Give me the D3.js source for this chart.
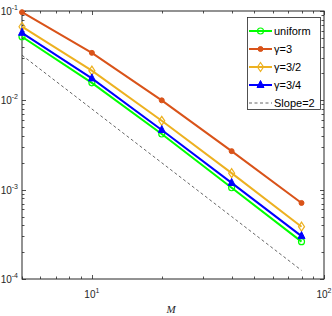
<!DOCTYPE html>
<html><head><meta charset="utf-8">
<script src="https://cdn.jsdelivr.net/npm/d3@7"></script>
<style>body{margin:0;background:#fff}svg{display:block}</style>
</head><body>
<script>
const M = [5, 10, 20, 40, 80];
const uniform = [0.0515, 0.0157, 0.0042, 0.00105, 0.000262];
const gamma3 = [0.097, 0.034, 0.0100, 0.0027, 0.00071];
const gamma32 = [0.0667, 0.0215, 0.0059, 0.00153, 0.000385];
const gamma34 = [0.057, 0.0176, 0.00465, 0.00119, 0.000302];
const slope2 = [0.032, 0.008, 0.002, 0.0005, 0.000125];
const xTickExp = [1, 2];
const yTickExp = [-4, -3, -2, -1];
const seriesNames = ["uniform", "\u03b3=3", "\u03b3=3/2", "\u03b3=3/4", "Slope=2"];

const W = 332, H = 316;
const L = 22, R = 324, T = 11, B = 279;
const svg = d3.select("body").append("svg").attr("width", W).attr("height", H);
const x = d3.scaleLog().domain([5, 100]).range([L, R]);
const y = d3.scaleLog().domain([1e-4, 1e-1]).range([B, T]);

// box
svg.append("rect").attr("x", L).attr("y", T).attr("width", R - L).attr("height", B - T)
  .attr("fill", "#fff").attr("stroke", "#262626").attr("stroke-width", 1);

// ticks
const xMinor = [];
for (let d = 0; d <= 2; d++) for (let k = 1; k <= 9; k++) { const v = k * Math.pow(10, d); if (v >= 5 && v <= 100) xMinor.push(v); }
const yMinor = [];
for (let d = -4; d <= -1; d++) for (let k = 1; k <= 9; k++) { const v = k * Math.pow(10, d); if (v >= 1e-4 && v <= 1e-1) yMinor.push(v); }
const tg = svg.append("g").attr("stroke", "#262626").attr("stroke-width", 0.8);
xMinor.forEach(v => {
  const major = Math.abs(Math.log10(v) - Math.round(Math.log10(v))) < 1e-9;
  const len = major ? 4 : 2.5;
  const px = Math.round(x(v)) + 0.5;
  tg.append("line").attr("x1", px).attr("x2", px).attr("y1", B).attr("y2", B - len);
  tg.append("line").attr("x1", px).attr("x2", px).attr("y1", T).attr("y2", T + len);
});
yMinor.forEach(v => {
  const major = Math.abs(Math.log10(v) - Math.round(Math.log10(v))) < 1e-9;
  const len = major ? 4 : 2.5;
  const py = Math.round(y(v)) + 0.5;
  tg.append("line").attr("x1", L).attr("x2", L + len).attr("y1", py).attr("y2", py);
  tg.append("line").attr("x1", R).attr("x2", R - len).attr("y1", py).attr("y2", py);
});

// tick labels
const font = "Liberation Sans, Arial, sans-serif";
xTickExp.forEach(e => {
  const t = svg.append("text").attr("x", x(Math.pow(10, e))).attr("y", 298)
    .attr("text-anchor", "middle").attr("font-family", font).attr("font-size", 10).attr("fill", "#262626");
  t.append("tspan").text("10");
  t.append("tspan").attr("dy", -5).attr("font-size", 7).text(e);
});
yTickExp.forEach(e => {
  const t = svg.append("text").attr("x", 18).attr("y", y(Math.pow(10, e)) + 4)
    .attr("text-anchor", "end").attr("font-family", font).attr("font-size", 10).attr("fill", "#262626");
  t.append("tspan").text("10");
  t.append("tspan").attr("dy", -5).attr("font-size", 7).text(e);
});
svg.append("text").attr("x", 171).attr("y", 313).attr("text-anchor", "middle")
  .attr("font-family", "Liberation Serif, Times New Roman, serif").attr("font-style", "italic")
  .attr("font-size", 11).attr("fill", "#262626").text("M");

const line = d3.line().x(d => x(d[0])).y(d => y(d[1]));
const series = [
  { vals: uniform, color: "#00ff00", marker: "circle" },
  { vals: gamma3, color: "#d95319", marker: "dot" },
  { vals: gamma32, color: "#edb120", marker: "diamond" },
  { vals: gamma34, color: "#0000ff", marker: "triangle" }
];
const clip = svg.append("clipPath").attr("id", "c").append("rect").attr("x", L).attr("y", T).attr("width", R - L).attr("height", B - T);

function drawMarker(g, mk, cx, cy, color) {
  if (mk === "circle") g.append("circle").attr("cx", cx).attr("cy", cy).attr("r", 3).attr("fill", "none").attr("stroke", color).attr("stroke-width", 1.2);
  else if (mk === "dot") g.append("circle").attr("cx", cx).attr("cy", cy).attr("r", 2.5).attr("fill", color).attr("stroke", color);
  else if (mk === "diamond") g.append("path").attr("d", `M${cx},${cy-4.5}L${cx+3},${cy}L${cx},${cy+4.5}L${cx-3},${cy}Z`).attr("fill", "none").attr("stroke", color).attr("stroke-width", 1.2);
  else if (mk === "triangle") g.append("path").attr("d", `M${cx},${cy-4.5}L${cx+3.5},${cy+2.5}L${cx-3.5},${cy+2.5}Z`).attr("fill", color).attr("stroke", color).attr("stroke-width", 1);
}

// slope line
svg.append("path").datum(M.map((m, i) => [m, slope2[i]])).attr("d", line)
  .attr("fill", "none").attr("stroke", "#404040").attr("stroke-width", 0.8).attr("stroke-dasharray", "3,2.5");

series.forEach(s => {
  const pts = M.map((m, i) => [m, s.vals[i]]);
  svg.append("path").datum(pts).attr("d", line).attr("fill", "none")
    .attr("stroke", s.color).attr("stroke-width", 2);
  const g = svg.append("g");
  pts.forEach(p => drawMarker(g, s.marker, x(p[0]), y(p[1]), s.color));
});

// legend
const lg = svg.append("g");
lg.append("rect").attr("x", 247.5).attr("y", 17.5).attr("width", 73).attr("height", 92)
  .attr("fill", "#fff").attr("stroke", "#262626").attr("stroke-width", 0.8);
seriesNames.forEach((n, i) => {
  const yy = 31 + i * 18;
  if (i < 4) {
    const s = series[i];
    lg.append("line").attr("x1", 249).attr("x2", 272).attr("y1", yy).attr("y2", yy).attr("stroke", s.color).attr("stroke-width", 2);
    drawMarker(lg, s.marker, 260.5, yy, s.color);
  } else {
    lg.append("line").attr("x1", 249).attr("x2", 272).attr("y1", yy).attr("y2", yy).attr("stroke", "#404040").attr("stroke-width", 0.8).attr("stroke-dasharray", "3,2.5");
  }
  lg.append("text").attr("x", 274).attr("y", yy + 4).attr("font-family", font).attr("font-size", 11).attr("fill", "#000").text(n);
});
</script>
</body></html>
